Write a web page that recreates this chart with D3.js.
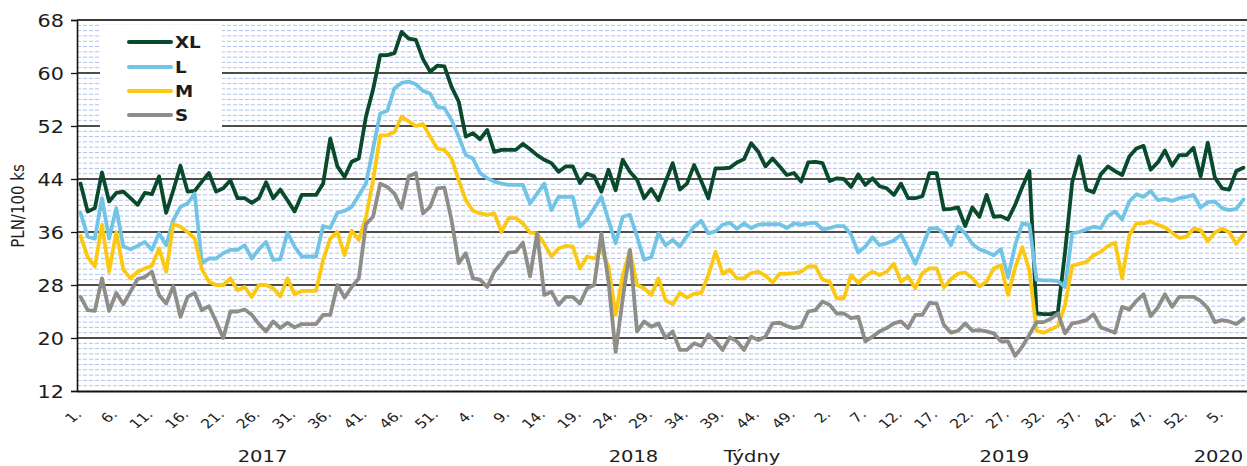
<!DOCTYPE html>
<html>
<head>
<meta charset="utf-8">
<script src="https://cdn.jsdelivr.net/npm/d3@7"></script>
<style>
  html, body { margin: 0; padding: 0; background: #fff; }
  svg { display: block; }
  text { font-family: "DejaVu Sans", Verdana, sans-serif; fill: #1c1c1c; }
</style>
</head>
<body>
<svg id="chart" width="1247" height="466"></svg>
<script>
// ---- data ----
const yearWeeks = [[2017, 52], [2018, 52], [2019, 52], [2020, 8]];
const seriesNames = ["XL", "L", "M", "S"];
const yTicks = [12, 20, 28, 36, 44, 52, 60, 68];

const XL = [43.3,39.1,39.6,45.0,40.6,41.9,42.1,41.1,40.1,41.9,41.7,44.4,38.9,42.3,46.0,42.1,42.2,43.6,44.9,42.1,
42.6,43.8,41.1,41.1,40.4,41.1,43.5,41.1,42.4,40.8,39.1,41.6,41.6,41.6,43.3,50.1,45.9,44.3,46.6,47.1,
53.4,57.5,62.7,62.7,63.0,66.2,65.2,65.0,62.1,60.2,61.1,61.0,57.9,55.7,50.4,50.9,50.0,51.4,48.1,48.4,
48.4,48.4,49.3,48.5,47.6,46.9,46.4,45.1,45.9,45.9,43.4,44.8,44.4,42.1,45.4,42.3,46.9,45.1,43.9,41.1,
42.5,40.8,43.6,46.4,42.4,43.3,46.1,43.7,41.1,45.6,45.6,45.7,46.5,47.0,49.4,48.1,45.9,47.1,45.9,44.6,
44.9,43.6,46.5,46.6,46.4,43.7,44.1,44.0,42.8,44.7,43.1,44.1,42.9,42.6,41.6,43.3,41.1,41.1,41.4,44.9,
44.9,39.4,39.5,39.7,36.9,39.7,38.3,41.6,38.3,38.4,37.9,40.1,42.8,45.2,23.7,23.6,23.6,24.0,33.0,43.5,
47.4,42.4,42.0,44.7,45.9,45.2,44.6,47.4,48.6,49.0,45.4,46.5,48.3,46.0,47.6,47.6,48.7,44.4,49.5,44.2,
42.6,42.4,45.2,45.7];

const L = [38.9,35.3,35.0,41.1,35.0,39.6,33.8,33.4,33.9,34.5,33.3,35.8,34.0,37.8,39.8,40.3,41.8,31.3,32.0,32.0,
32.8,33.3,33.3,34.0,32.0,33.4,34.5,31.8,31.9,35.9,33.8,32.3,32.3,32.3,36.9,36.6,38.9,39.2,39.8,41.5,
43.3,48.6,53.9,54.3,57.7,58.5,58.7,58.3,57.3,56.9,54.9,54.7,52.9,50.4,47.6,47.1,44.9,44.1,43.6,43.3,
43.1,43.1,43.1,40.3,41.8,43.3,39.3,41.3,41.3,41.3,36.8,37.9,39.6,41.3,37.8,34.3,38.3,38.6,35.3,31.8,
32.2,35.8,34.0,34.8,33.8,35.4,36.8,37.7,35.8,36.1,37.1,37.4,36.5,37.3,36.6,37.1,37.2,37.2,37.2,36.6,
37.3,37.1,37.3,37.4,36.4,36.6,36.9,36.9,35.6,32.9,33.8,35.2,34.0,34.3,34.7,35.6,33.5,31.2,33.8,36.5,
36.6,35.8,34.0,36.8,35.8,34.2,33.4,33.0,32.5,33.4,29.2,34.0,37.3,37.1,28.8,28.7,28.7,28.6,27.7,35.8,
36.0,36.4,36.8,36.6,38.4,39.1,37.9,40.6,41.7,41.3,42.2,40.8,41.0,40.7,41.1,41.3,41.6,39.7,40.5,40.6,
39.6,39.3,39.5,40.9];

const M = [35.4,32.2,30.8,37.1,30.0,36.0,30.3,29.0,30.0,30.5,30.9,33.5,30.0,37.2,36.8,36.0,35.0,30.4,28.5,28.0,
28.0,29.0,27.2,27.7,26.2,28.0,28.0,27.5,26.3,29.0,26.6,27.1,27.1,27.1,31.8,35.0,36.0,32.5,36.2,34.8,
38.2,43.8,50.6,50.6,51.1,53.4,52.7,52.0,52.3,50.4,48.6,48.4,47.1,43.8,40.8,39.2,38.8,38.6,38.8,36.0,
38.1,38.1,37.3,35.9,35.8,34.2,32.3,33.5,33.9,33.8,30.5,32.3,32.0,33.3,30.8,23.5,29.5,33.2,28.0,27.5,
26.5,29.0,25.7,25.1,26.8,26.1,26.7,26.8,29.5,33.0,29.7,30.3,29.0,29.0,29.8,30.0,29.4,28.4,29.7,29.7,
29.8,30.0,30.8,30.8,28.8,28.5,26.0,26.0,29.5,28.3,29.3,30.0,29.5,30.0,31.2,28.5,29.3,27.5,29.8,30.5,
30.5,27.6,28.9,29.7,29.9,29.0,27.8,28.5,30.5,31.0,26.5,30.6,33.7,30.2,21.1,20.8,21.3,21.8,25.0,30.9,
31.2,31.5,32.5,33.0,33.9,34.4,29.0,35.5,37.3,37.3,37.6,37.1,36.7,35.9,35.1,35.3,36.5,36.3,34.6,35.9,
36.5,36.0,34.2,35.6];

const S = [26.2,24.2,24.1,29.0,24.1,26.8,25.1,27.0,28.9,29.2,30.0,26.5,25.2,27.8,23.2,26.2,26.8,24.2,24.8,22.5,
20.0,24.0,24.0,24.3,23.5,22.1,21.0,22.5,21.5,22.3,21.6,22.1,22.1,22.1,23.5,23.5,28.0,26.1,27.7,29.0,
37.2,38.3,43.3,42.8,41.8,39.6,44.4,44.9,38.8,39.8,42.6,42.7,37.8,31.3,32.8,29.0,28.8,27.7,30.0,31.3,
32.9,33.0,34.4,29.3,35.8,26.5,27.0,25.0,26.2,26.2,25.2,27.5,28.0,35.8,28.5,17.9,26.0,33.3,21.0,22.5,
21.7,22.2,20.0,21.0,18.2,18.2,19.2,18.8,20.5,19.5,18.2,20.1,19.5,18.2,20.2,19.7,20.2,22.2,22.3,21.8,
21.5,21.7,24.0,24.2,25.5,25.0,23.7,23.7,23.0,23.2,19.5,20.2,21.0,21.5,22.2,22.5,21.5,23.5,23.5,25.3,
25.2,22.0,20.8,21.1,22.2,21.1,21.2,21.0,20.7,19.5,19.5,17.3,18.7,20.5,22.4,22.4,22.9,23.7,20.7,22.2,
22.4,22.7,23.6,21.6,21.2,20.8,24.7,24.3,25.6,26.6,23.3,24.6,26.6,24.7,26.2,26.2,26.2,25.6,24.5,22.4,
22.7,22.5,22.1,22.9];

const seriesColors = ["#0a4a2c", "#72c4e6", "#fcc912", "#8e8d88"];

// ---- categories (year, week) ----
const cats = [];
yearWeeks.forEach(([yr, n]) => { for (let w = 1; w <= n; w++) cats.push({ yr, w }); });

// ---- layout ----
const svg = d3.select("#chart");
const pL = 77, pR = 1247, pT = 20, pB = 391;
const SX = 1.22; // horizontal stretch of the reference's text

const x = d3.scaleBand().domain(d3.range(cats.length)).range([pL, pR]).paddingInner(0).paddingOuter(0);
const cx = i => x(i) + x.bandwidth() / 2;
const y = d3.scaleLinear().domain([12, 68]).range([pB, pT]);

// minor dashed gridlines
const minor = d3.range(0, 71).filter(k => k % 10 !== 0).map(k => 12 + k * 0.8);
svg.append("g").selectAll("line").data(minor).join("line")
  .attr("x1", pL).attr("x2", pR)
  .attr("y1", d => y(d)).attr("y2", d => y(d))
  .attr("stroke", "#aec2ee").attr("stroke-width", 1).attr("stroke-dasharray", "4,2");

// major gridlines
svg.append("g").selectAll("line").data(yTicks.filter(v => v !== 12)).join("line")
  .attr("x1", pL).attr("x2", pR)
  .attr("y1", d => y(d)).attr("y2", d => y(d))
  .attr("stroke", d => d === 68 ? "#3a3a3a" : "#111")
  .attr("stroke-width", d => d === 68 ? 2 : 1.3);

// legend background (covers gridlines)
svg.append("rect").attr("x", 100).attr("y", 25).attr("width", 122).attr("height", 102).attr("fill", "#fff");

// series lines
const line = d3.line().x((d, i) => cx(i)).y(d => y(d)).curve(d3.curveLinear);
[XL, L, M, S].forEach((vals, k) => {
  svg.append("path").datum(vals)
    .attr("fill", "none").attr("stroke", seriesColors[k])
    .attr("stroke-width", 3.8).attr("stroke-linejoin", "round").attr("stroke-linecap", "round")
    .attr("d", line);
});

// y axis
const yAxis = svg.append("g").attr("transform", `translate(${pL},0)`)
  .call(d3.axisLeft(y).tickValues(yTicks).tickSize(6).tickFormat(d3.format("d")));
yAxis.select(".domain").attr("stroke", "#111").attr("stroke-width", 1.6);
yAxis.selectAll(".tick line").attr("stroke", "#111").attr("stroke-width", 1.3);
yAxis.selectAll(".tick text")
  .attr("x", null).attr("dy", null)
  .attr("transform", `translate(-13,6) scale(${SX},1)`)
  .attr("text-anchor", "end")
  .style("font-size", "17px").style("font-family", "DejaVu Sans, Verdana, sans-serif").attr("fill", "#1c1c1c");

// x axis
const xTickIdx = d3.range(0, cats.length, 5);
const xAxis = svg.append("g").attr("transform", `translate(0,${pB})`)
  .call(d3.axisBottom(x).tickValues(xTickIdx).tickSize(0).tickFormat(i => cats[i].w + "."));
xAxis.select(".domain").attr("stroke", "#111").attr("stroke-width", 1.8);
xAxis.selectAll(".tick text")
  .attr("y", null).attr("dy", null)
  .attr("transform", `translate(2,24) scale(${SX},1) rotate(-45)`)
  .attr("text-anchor", "end")
  .style("font-size", "13px").style("font-family", "DejaVu Sans, Verdana, sans-serif").attr("fill", "#1c1c1c");

// year labels
yearWeeks.forEach(([yr, n]) => {
  const first = cats.findIndex(c => c.yr === yr);
  const mid = (cx(first) + cx(first + n - 1)) / 2;
  svg.append("text").attr("transform", `translate(${mid},462) scale(${SX},1)`)
    .attr("text-anchor", "middle").style("font-size", "16px").text(yr);
});
svg.append("text").attr("transform", `translate(752,462) scale(${SX},1)`)
  .attr("text-anchor", "middle").style("font-size", "16px").text("Týdny");

// y axis title
svg.append("text").attr("transform", `translate(24,206) scale(${SX},1) rotate(-90)`)
  .attr("text-anchor", "middle").style("font-size", "15px").text("PLN/100 ks");

// legend
const legY = [42, 67, 91, 115];
seriesNames.forEach((nm, k) => {
  svg.append("line").attr("x1", 129).attr("x2", 171).attr("y1", legY[k]).attr("y2", legY[k])
    .attr("stroke", seriesColors[k]).attr("stroke-width", 4).attr("stroke-linecap", "round");
  svg.append("text").attr("transform", `translate(175,${legY[k] + 5.5}) scale(${SX},1)`)
    .style("font-size", "15px").style("font-weight", "bold").attr("fill", "#101030").text(nm);
});
</script>
</body>
</html>
